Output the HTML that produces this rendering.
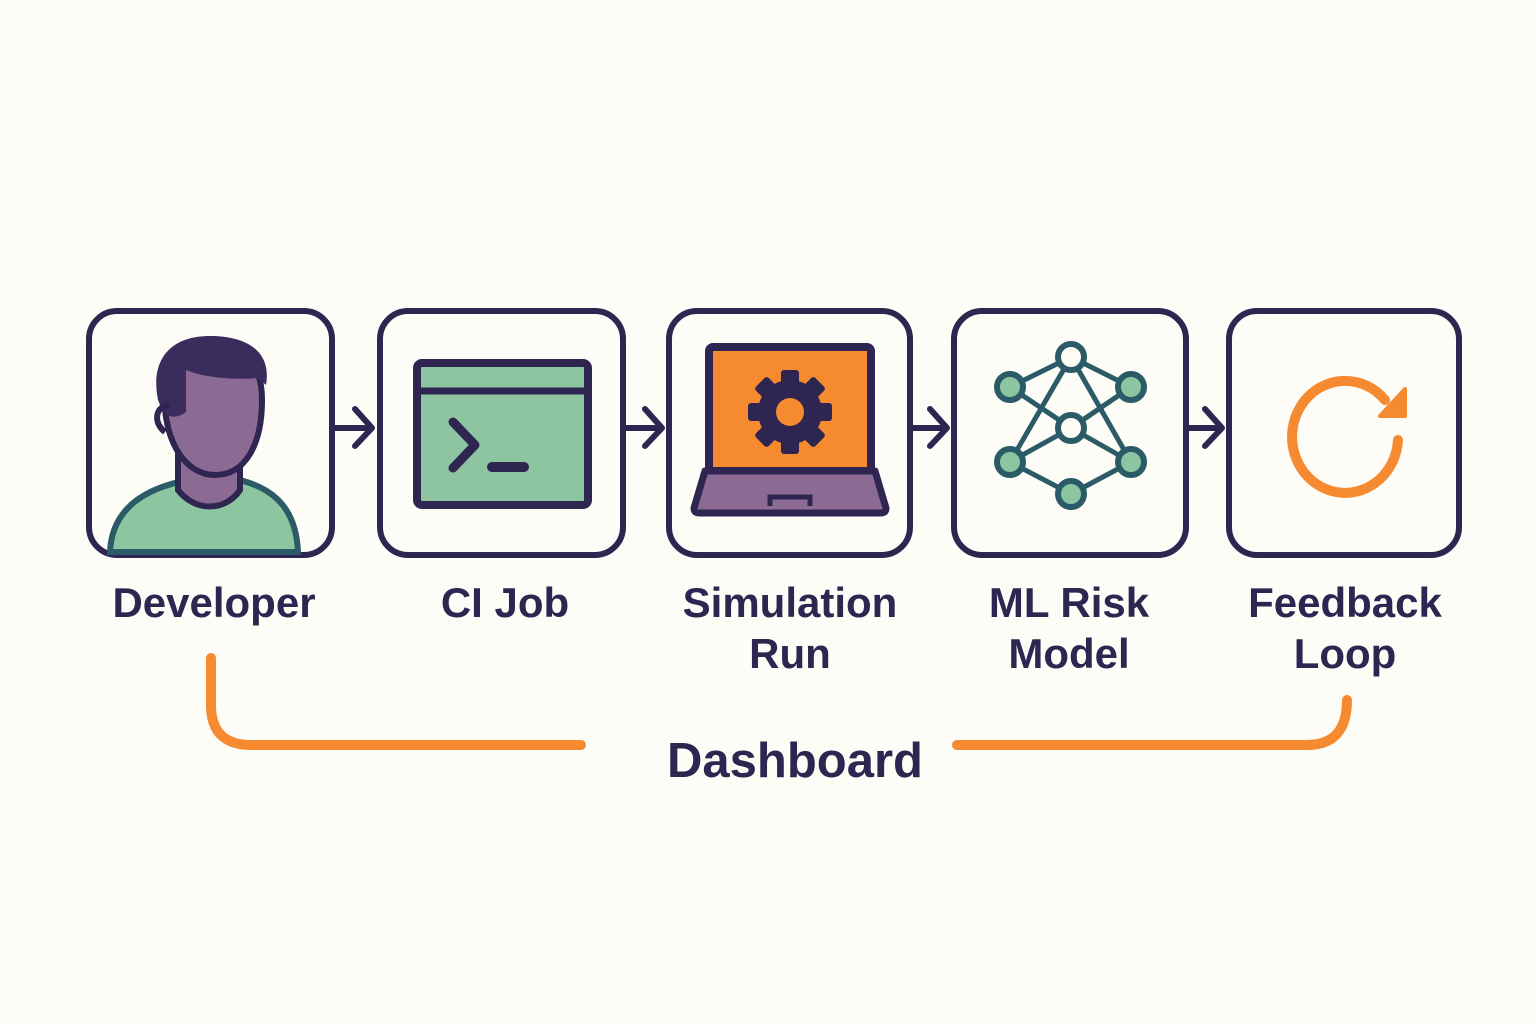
<!DOCTYPE html>
<html><head><style>
body{margin:0;background:#fdfcf7;}
svg{display:block}
text{font-family:"Liberation Sans",sans-serif;font-weight:bold;fill:#2e2550;text-anchor:middle}
</style></head><body>
<svg width="1536" height="1024" viewBox="0 0 1536 1024">
<rect width="1536" height="1024" fill="#fdfcf7"/>
<g fill="none" stroke="#2e2550" stroke-width="6">
<rect x="89" y="311" width="243" height="244" rx="28"/>
<rect x="380" y="311" width="243" height="244" rx="28"/>
<rect x="669" y="311" width="241" height="244" rx="28"/>
<rect x="954" y="311" width="232" height="244" rx="28"/>
<rect x="1229" y="311" width="230" height="244" rx="28"/>
</g>
<g fill="none" stroke="#2e2550" stroke-width="6" stroke-linecap="round" stroke-linejoin="round">
<path d="M334 428H370M355 409L372 428L355 446"/>
<path d="M625 428H660M645 409L662 428L645 446"/>
<path d="M912 428H945M930 409L947 428L930 446"/>
<path d="M1188 428H1220M1205 409L1222 428L1205 446"/>
</g>
<!-- developer -->
<path d="M110 552C112 505 150 485 200 478L230 478C270 485 296 505 298 552Z" fill="#8cc59f" stroke="#2a5b66" stroke-width="6"/>
<path d="M178 455L178 490C195 512 225 512 240 490L240 455Z" fill="#8b6a94" stroke="#2e2550" stroke-width="6"/>
<path d="M165 380C160 440 185 475 215 475C245 475 262 445 262 400C262 360 240 345 210 345C180 345 168 360 165 380Z" fill="#8b6a94" stroke="#2e2550" stroke-width="6"/>
<path d="M158 400C150 360 170 336 210 336C245 336 272 350 266 385L258 378C235 380 205 378 186 370L186 412C175 420 165 418 160 405Z" fill="#3a2c5c"/>
<path d="M170 405C156 405 152 422 165 432" fill="none" stroke="#2e2550" stroke-width="6"/>
<!-- terminal -->
<rect x="417" y="363" width="171" height="142" rx="5" fill="#8cc59f" stroke="#2e2550" stroke-width="8"/>
<line x1="417" y1="391" x2="588" y2="391" stroke="#2e2550" stroke-width="7"/>
<path d="M453 422L475 445L453 468" fill="none" stroke="#2e2550" stroke-width="9" stroke-linecap="round" stroke-linejoin="round"/>
<line x1="492" y1="467" x2="524" y2="467" stroke="#2e2550" stroke-width="10" stroke-linecap="round"/>
<!-- laptop -->
<rect x="709" y="347" width="162" height="124" rx="4" fill="#f58a30" stroke="#2e2550" stroke-width="8"/>
<path d="M705 471H875L886 508C886 512 884 513 880 513H700C696 513 694 512 694 508Z" fill="#8b6a94" stroke="#2e2550" stroke-width="7" stroke-linejoin="round"/>
<path d="M770 506V497H810V506" fill="#8b6a94" stroke="#2e2550" stroke-width="5"/>
<g transform="translate(790,412)" fill="#2e2550">
<circle r="32"/>
<g id="t"><rect x="-9" y="-42" width="18" height="18" rx="3"/></g>
<use href="#t" transform="rotate(45)"/><use href="#t" transform="rotate(90)"/><use href="#t" transform="rotate(135)"/>
<use href="#t" transform="rotate(180)"/><use href="#t" transform="rotate(225)"/><use href="#t" transform="rotate(270)"/><use href="#t" transform="rotate(315)"/>
<circle r="14" fill="#f58a30"/>
</g>
<!-- network -->
<g stroke="#2a5b66" stroke-width="5" fill="none">
<path d="M1071 357L1010 387M1071 357L1131 387M1071 357L1010 462M1071 357L1131 462M1010 387L1071 428M1131 387L1071 428M1071 428L1010 462M1071 428L1131 462M1010 462L1071 494M1131 462L1071 494"/>
</g>
<g stroke="#2a5b66" stroke-width="6">
<circle cx="1071" cy="357" r="13" fill="#fdfcf7"/>
<circle cx="1071" cy="428" r="13" fill="#fdfcf7"/>
<circle cx="1010" cy="387" r="13" fill="#8cc59f"/>
<circle cx="1131" cy="387" r="13" fill="#8cc59f"/>
<circle cx="1010" cy="462" r="13" fill="#8cc59f"/>
<circle cx="1131" cy="462" r="13" fill="#8cc59f"/>
<circle cx="1071" cy="494" r="13" fill="#8cc59f"/>
</g>
<!-- refresh -->
<path d="M1398 440A53 56 0 1 1 1385 400" fill="none" stroke="#f58a30" stroke-width="10" stroke-linecap="round"/>
<path d="M1405 389L1405 416L1380 416Z" fill="#f58a30" stroke="#f58a30" stroke-width="4" stroke-linejoin="round"/>
<!-- labels -->
<g font-size="42">
<text x="214" y="617">Developer</text>
<text x="505" y="617">CI Job</text>
<text x="790" y="617">Simulation</text>
<text x="790" y="668">Run</text>
<text x="1069" y="617">ML Risk</text>
<text x="1069" y="668">Model</text>
<text x="1345" y="617">Feedback</text>
<text x="1345" y="668">Loop</text>
</g>
<text x="795" y="777" font-size="49">Dashboard</text>
<g fill="none" stroke="#f58a30" stroke-width="10" stroke-linecap="round">
<path d="M211 658V705Q211 745 251 745H581"/>
<path d="M957 745H1307Q1347 745 1347 700"/>
</g>
</svg>
</body></html>
